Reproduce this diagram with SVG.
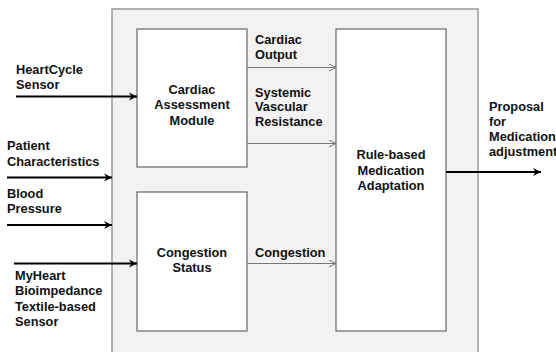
<svg xmlns="http://www.w3.org/2000/svg" width="556" height="352" viewBox="0 0 556 352">
<defs>
<style>
text{font-family:"Liberation Sans",Arial,sans-serif;font-weight:bold;font-size:12.8px;fill:#111}
.c{text-anchor:middle}
.box{fill:#fff;stroke:#666;stroke-width:1.2}
.thick{stroke:#000;stroke-width:2;fill:none}
.thin{stroke:#777;stroke-width:1;fill:none}
</style>
<marker id="ah" markerWidth="10" markerHeight="10" refX="8" refY="4" orient="auto" markerUnits="userSpaceOnUse" viewBox="0 0 10 8">
<path d="M0,0 L8,4 L0,8 L2.5,4 z" fill="#000"/>
</marker>
<marker id="at" markerWidth="8" markerHeight="8" refX="7" refY="3.5" orient="auto" markerUnits="userSpaceOnUse" viewBox="0 0 8 7">
<path d="M0,0 L7,3.5 L0,7" fill="none" stroke="#777" stroke-width="1"/>
</marker>
</defs>
<rect width="556" height="352" fill="#fff"/>
<g id="system">
<rect x="112" y="9" width="366" height="360" fill="#f2f2f2" stroke="#999" stroke-width="1.5"/>
</g>
<g id="cardiac">
<rect class="box" x="137" y="29" width="110" height="138"/>
<text class="c" x="192" y="93.5">Cardiac</text>
<text class="c" x="192" y="109">Assessment</text>
<text class="c" x="192" y="124.5">Module</text>
</g>
<g id="congestion">
<rect class="box" x="137" y="192" width="110" height="139"/>
<text class="c" x="192" y="256.5">Congestion</text>
<text class="c" x="192" y="272">Status</text>
</g>
<g id="rule">
<rect class="box" x="336" y="29" width="110" height="302"/>
<text class="c" x="391" y="158.5">Rule-based</text>
<text class="c" x="391" y="174.5">Medication</text>
<text class="c" x="391" y="190">Adaptation</text>
</g>
<g id="inputs">
<text x="16" y="74">HeartCycle</text>
<text x="16" y="89">Sensor</text>
<text x="7" y="150">Patient</text>
<text x="7" y="165.5">Characteristics</text>
<text x="7" y="197.5">Blood</text>
<text x="7" y="212.5">Pressure</text>
<text x="15" y="280">MyHeart</text>
<text x="15" y="295">Bioimpedance</text>
<text x="15" y="310.5">Textile-based</text>
<text x="15" y="326">Sensor</text>
</g>
<g id="output">
<text x="489" y="111">Proposal</text>
<text x="489" y="126">for</text>
<text x="489" y="141">Medication</text>
<text x="489" y="156">adjustment</text>
</g>
<g id="connectors">
<line class="thick" x1="16" y1="96.5" x2="137" y2="96.5" marker-end="url(#ah)"/>
<line class="thick" x1="7" y1="177.5" x2="112" y2="177.5" marker-end="url(#ah)"/>
<line class="thick" x1="7" y1="225" x2="112" y2="225" marker-end="url(#ah)"/>
<line class="thick" x1="14" y1="263.5" x2="137" y2="263.5" marker-end="url(#ah)"/>
<line class="thick" x1="446" y1="172" x2="541" y2="172" marker-end="url(#ah)"/>
<line class="thin" x1="247" y1="67.5" x2="336" y2="67.5" marker-end="url(#at)"/>
<line class="thin" x1="247" y1="143.5" x2="336" y2="143.5" marker-end="url(#at)"/>
<line class="thin" x1="247" y1="263.5" x2="336" y2="263.5" marker-end="url(#at)"/>
<text x="255" y="44">Cardiac</text>
<text x="255" y="58.5">Output</text>
<text x="255" y="96.5">Systemic</text>
<text x="255" y="111">Vascular</text>
<text x="255" y="125.5">Resistance</text>
<text x="255" y="257">Congestion</text>
</g>
</svg>
